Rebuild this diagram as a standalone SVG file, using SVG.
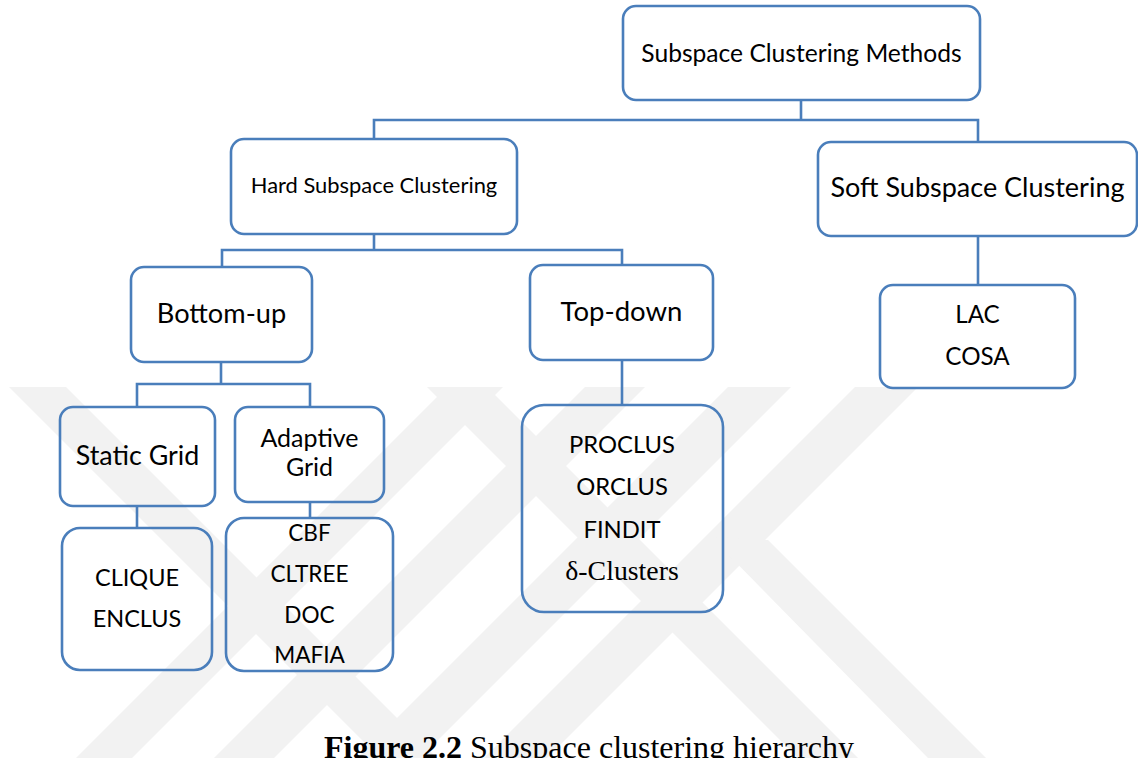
<svg xmlns="http://www.w3.org/2000/svg" width="1138" height="758" viewBox="0 0 1138 758">
  <style>
    .box { fill: none; stroke: #4a7ebb; stroke-width: 2.6; }
    .conn { fill: none; stroke: #4a7ebb; stroke-width: 2.6; }
    .t { font-family: Lato, "Liberation Sans", sans-serif; fill: #000; text-anchor: middle; }
    .tr { font-family: "Liberation Serif", serif; fill: #000; text-anchor: middle; }
    .wm { fill: #f2f2f2; }
  </style>
  <rect x="0" y="0" width="1138" height="758" fill="#ffffff"/>

  <!-- watermark -->
  <g id="watermark" class="wm">
    <polygon points="9,387 66,387 437,758 380,758"/>
    <polygon points="447,387 503,387 132,758 76,758"/>
    <polygon points="585,387 645,387 274,758 214,758"/>
    <polygon points="728,387 791,387 420,758 357,758"/>
    <polygon points="855,387 918,387 547,758 484,758"/>
    <polygon points="427,387 487,387 858,758 798,758"/>
    <polygon points="711,537 768,540 986,758 928,758"/>
  </g>

  <!-- connectors -->
  <g id="connectors" class="conn">
    <path d="M801,100 V120 M374,139 V120 H978 V142"/>
    <path d="M374,234 V250 M222,267 V250 H622 V265"/>
    <path d="M221,362 V384 M137,407 V384 H310 V407"/>
    <path d="M137,506 V528"/>
    <path d="M310,502 V518"/>
    <path d="M622,360 V405"/>
    <path d="M978,236 V285"/>
  </g>

  <g id="root">
    <rect class="box" x="623" y="6" width="357" height="94" rx="13"/>
    <text class="t" x="801.5" y="62" font-size="24.6">Subspace Clustering Methods</text>
  </g>
  <g id="hard">
    <rect class="box" x="231" y="139" width="286" height="95" rx="13"/>
    <text class="t" x="374" y="193" font-size="21.9">Hard Subspace Clustering</text>
  </g>
  <g id="soft">
    <rect class="box" x="818" y="142" width="319" height="94" rx="13"/>
    <text class="t" x="977.5" y="197" font-size="27">Soft Subspace Clustering</text>
  </g>
  <g id="bottomup">
    <rect class="box" x="131" y="267" width="181" height="95" rx="13"/>
    <text class="t" x="221.5" y="323" font-size="27.2">Bottom-up</text>
  </g>
  <g id="topdown">
    <rect class="box" x="530" y="265" width="183" height="95" rx="13"/>
    <text class="t" x="621.5" y="321" font-size="27.5">Top-down</text>
  </g>
  <g id="softmethods">
    <rect class="box" x="880" y="285" width="195" height="103" rx="13"/>
    <text class="t" x="977.5" y="323" font-size="24.2">LAC</text>
    <text class="t" x="977.5" y="365" font-size="24.2">COSA</text>
  </g>
  <g id="staticgrid">
    <rect class="box" x="60" y="407" width="155" height="99" rx="13"/>
    <text class="t" x="137.5" y="465" font-size="26.8">Static Grid</text>
  </g>
  <g id="adaptivegrid">
    <rect class="box" x="235" y="407" width="149" height="95" rx="13"/>
    <text class="t" x="309.5" y="447" font-size="25">Adaptive</text>
    <text class="t" x="309.5" y="476" font-size="25">Grid</text>
  </g>
  <g id="staticmethods">
    <rect class="box" x="62" y="528" width="150" height="142" rx="18"/>
    <text class="t" x="137" y="586" font-size="23.5">CLIQUE</text>
    <text class="t" x="137" y="627" font-size="23.5">ENCLUS</text>
  </g>
  <g id="adaptivemethods">
    <rect class="box" x="226" y="518" width="167" height="153" rx="18"/>
    <text class="t" x="309.5" y="541" font-size="22.6">CBF</text>
    <text class="t" x="309.5" y="582" font-size="22.6">CLTREE</text>
    <text class="t" x="309.5" y="623" font-size="22.6">DOC</text>
    <text class="t" x="309.5" y="663" font-size="22.6">MAFIA</text>
  </g>
  <g id="topdownmethods">
    <rect class="box" x="522" y="405" width="201" height="207" rx="22"/>
    <text class="t" x="622" y="453" font-size="23.8">PROCLUS</text>
    <text class="t" x="622" y="494.5" font-size="23.8">ORCLUS</text>
    <text class="t" x="622" y="537.5" font-size="23.8">FINDIT</text>
    <text class="tr" x="622" y="580" font-size="27.8">δ-Clusters</text>
  </g>

  <text x="324" y="758" font-family="'Liberation Serif', serif" font-size="32" fill="#000"><tspan font-weight="bold">Figure 2.2</tspan> Subspace clustering hierarchy</text>
</svg>
